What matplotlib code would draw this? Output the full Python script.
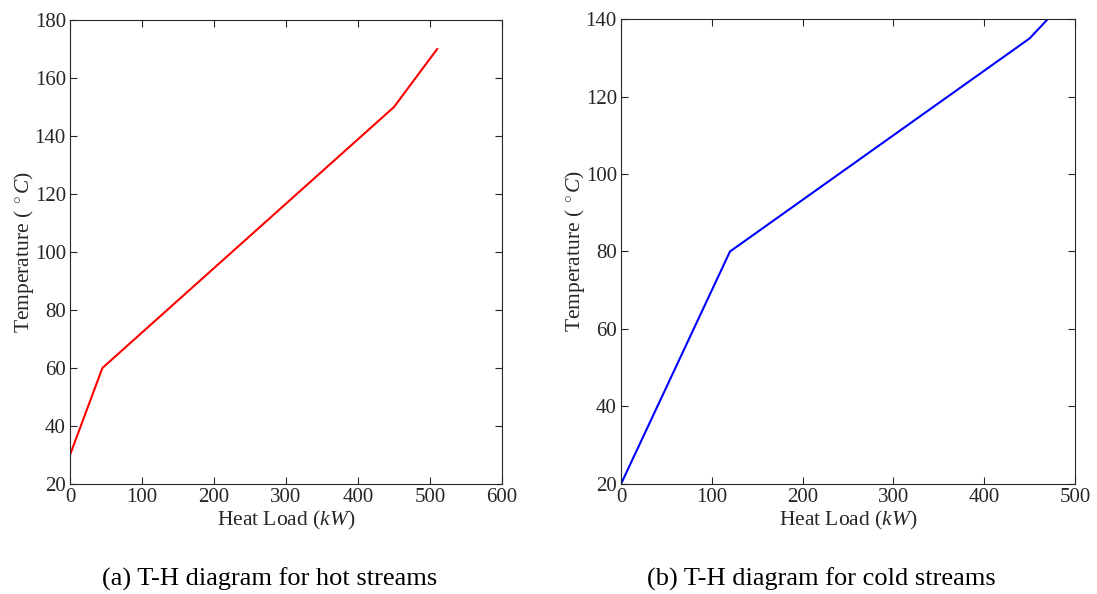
import matplotlib
matplotlib.use("Agg")
import matplotlib.pyplot as plt

plt.rcParams["font.family"] = ["Liberation Serif", "DejaVu Serif"]
plt.rcParams["mathtext.fontset"] = "custom"
plt.rcParams["mathtext.rm"] = "Liberation Serif"
plt.rcParams["mathtext.it"] = "Liberation Serif:italic"

# hot streams composite curve
hot_load = [0, 45, 450, 510]
hot_temp = [30, 60, 150, 170]

# cold streams composite curve
cold_load = [0, 120, 450, 470]
cold_temp = [20, 80, 135, 140]

fig = plt.figure(figsize=(10.97, 5.94), dpi=100)
ax1 = fig.add_axes([0.0638, 0.1852, 0.3938, 0.7811])
ax2 = fig.add_axes([0.5661, 0.1852, 0.4139, 0.7828])

ax1.plot(hot_load, hot_temp, color="red", linewidth=1.5)
ax1.set_xlim(0, 600)
ax1.set_ylim(20, 180)
ax1.set_xticks(range(0, 601, 100))
ax1.set_yticks(range(20, 181, 20))

ax2.plot(cold_load, cold_temp, color="blue", linewidth=1.5)
ax2.set_xlim(0, 500)
ax2.set_ylim(20, 140)
ax2.set_xticks(range(0, 501, 100))
ax2.set_yticks(range(20, 141, 20))

for ax in (ax1, ax2):
    ax.tick_params(direction="in", top=True, right=True, length=5, pad=3,
                   labelsize=15, colors="#262626", labelcolor="#262626")
    ax.set_xlabel(r"Heat Load $\mathit{(kW)}$", fontsize=15.5, color="#262626", labelpad=1)
    ax.set_ylabel(r"Temperature $(\;^\circ C)$", fontsize=15.5, color="#262626", labelpad=-1)
    for s in ax.spines.values():
        s.set_color("#262626")

fig.text(0.246, 0.014, "(a) T-H diagram for hot streams", ha="center", fontsize=19)
fig.text(0.749, 0.014, "(b) T-H diagram for cold streams", ha="center", fontsize=19)

fig.savefig("out.png", dpi=100)
